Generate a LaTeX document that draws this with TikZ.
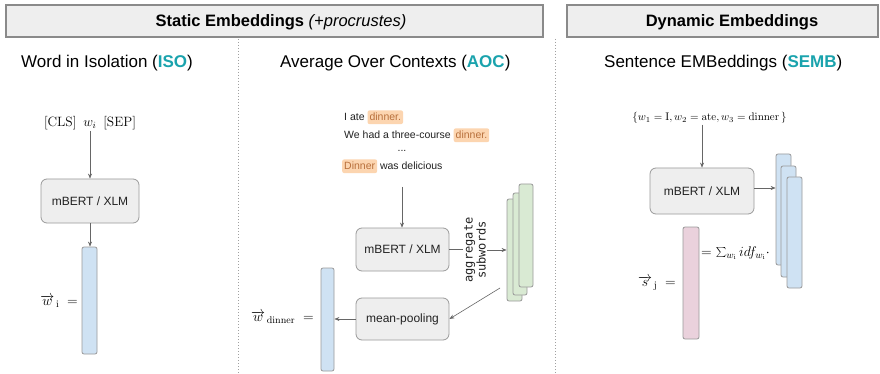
\RequirePackage{fix-cm}
\documentclass[tikz,border=0pt]{standalone}
\usepackage[no-math]{fontspec}
\setmainfont{Liberation Sans}
\setmonofont{DejaVu Sans Mono}
\usetikzlibrary{arrows.meta}
\definecolor{hdrfill}{HTML}{EEEEEE}
\definecolor{hdrline}{HTML}{8A8A8A}
\definecolor{boxfill}{HTML}{EEEEEE}
\definecolor{boxline}{HTML}{9A9A9A}
\definecolor{teal1}{HTML}{1AA3AD}
\definecolor{bluev}{HTML}{CFE2F3}
\definecolor{greenv}{HTML}{D9EAD3}
\definecolor{pinkv}{HTML}{EAD1DC}
\definecolor{hlfill}{HTML}{FCD5B0}
\definecolor{hltext}{HTML}{B8703C}
\definecolor{arrc}{HTML}{666666}
\definecolor{txtc}{HTML}{222222}
\definecolor{sepc}{HTML}{A0A0A0}
\begin{document}
\begin{tikzpicture}[x=1pt,y=-1pt,
  hdrbox/.style={draw=hdrline, line width=1.3pt, fill=hdrfill, inner sep=0pt},
  hdrtext/.style={font=\fontsize{16.5}{20}\selectfont, anchor=base, inner sep=0pt, text=black},
  boxm/.style={draw=boxline, line width=0.8pt, fill=boxfill, rounded corners=6pt, inner sep=0pt, font=\fontsize{12}{14}\selectfont, text=txtc},
  vecbar/.style={draw=boxline, line width=0.8pt, rounded corners=2pt, inner sep=0pt},
  arr/.style={draw=arrc, line width=0.6pt, -{Stealth[length=5pt,width=4pt]}},
  plainline/.style={draw=arrc, line width=0.6pt},
  ttl/.style={font=\fontsize{17}{20}\selectfont, anchor=base west, inner sep=0pt, text=black},
  sent/.style={font=\fontsize{10.5}{12}\selectfont, text=txtc, inner sep=0pt},
  hl/.style={sent, fill=hlfill, text=hltext, rounded corners=2pt, inner xsep=2pt, inner ysep=3pt},
  mathlbl/.style={inner sep=0pt, text=black},
  sepline/.style={draw=sepc, line width=1pt, dotted}
]
\fill[white] (0,0) rectangle (880,374);
\useasboundingbox (0,0) rectangle (880,374);

% headers
\node[hdrbox, minimum width=537pt, minimum height=32pt] (hs) at (274.5,21) {};
\node[hdrtext] (hst) at (281,27) {\textbf{Static Embeddings} \textit{(+procrustes)}};
\node[hdrbox, minimum width=311pt, minimum height=32pt] (hd) at (722.5,21) {};
\node[hdrtext] (hdt) at (732,27) {\textbf{Dynamic Embeddings}};

% separators
\draw[sepline] (238,39) -- (238,374);
\draw[sepline] (555,39) -- (555,374);

% titles
\node[ttl] (t1) at (21,68) {Word in Isolation (\textbf{\textcolor{teal1}{ISO}})};
\node[ttl] (t2) at (280,68) {Average Over Contexts (\textbf{\textcolor{teal1}{AOC}})};
\node[ttl] (t3) at (604,68) {Sentence EMBeddings (\textbf{\textcolor{teal1}{SEMB}})};

% ISO
\node[mathlbl, font=\fontsize{13.5}{15}\selectfont, inner sep=1pt] (cls) at (90,123) {$[\mathrm{CLS}]\enspace w_i\enspace [\mathrm{SEP}]$};
\node[boxm, minimum width=98pt, minimum height=44pt] (m1) at (90,201) {mBERT / XLM};
\node[vecbar, fill=bluev, minimum width=15pt, minimum height=107pt] (b1) at (89.5,300.5) {};
\draw[arr] (cls.south -| m1.north) -- (m1.north);
\draw[arr] (m1.south) -- (m1.south |- b1.north);
\node[mathlbl, font=\fontsize{14}{16}\selectfont, anchor=base east] (wi) at (78,305.5) {$\overrightarrow{w}_{\,\mathrm{i}}\;=$};

% AOC sentences
\node[sent, anchor=base west] (s1a) at (344,121) {I ate};
\node[hl, anchor=base west] (s1b) at ([xshift=2.5pt]s1a.base east) {dinner.};
\node[sent, anchor=base west] (s2a) at (344,139) {We had a three-course};
\node[hl, anchor=base west] (s2b) at ([xshift=2.5pt]s2a.base east) {dinner.};
\node[sent, anchor=base] (s3) at (402,152) {...};
\node[hl, anchor=base west] (s4a) at (342,170) {Dinner};
\node[sent, anchor=base west] (s4b) at ([xshift=2.5pt]s4a.base east) {was delicious};

\coordinate (s0) at (402,187);
\node[boxm, minimum width=93pt, minimum height=43pt] (m2) at (402.5,249.5) {mBERT / XLM};
\draw[arr] (s0) -- (s0 |- m2.north);

\node[font=\fontsize{12}{13}\selectfont\ttfamily, rotate=90, align=center, inner sep=1pt, text=txtc] (agg) at (475,250) {aggregate\\subwords};

\node[vecbar, fill=greenv, minimum width=15pt, minimum height=102pt] (g1) at (514.5,250) {};
\node[vecbar, fill=greenv, minimum width=14pt, minimum height=102pt] (g2) at (520,244) {};
\node[vecbar, fill=greenv, minimum width=14pt, minimum height=103pt] (g3) at (526,235.5) {};

\draw[plainline] (m2.east) -- (m2.east -| agg.north);
\draw[arr] (agg.south) -- (agg.south -| g1.west);

\node[boxm, minimum width=93pt, minimum height=42pt] (mp) at (402.5,319) {mean-pooling};
\coordinate (gs) at (500,288);
\draw[arr] (gs) -- (mp.east);

\node[vecbar, fill=bluev, minimum width=13pt, minimum height=103pt] (b2) at (327.5,319.5) {};
\draw[arr] (mp.west) -- (mp.west -| b2.east);
\node[mathlbl, font=\fontsize{14}{16}\selectfont, anchor=base east] (wd) at (314,321.5) {$\overrightarrow{w}_{\,\mathrm{dinner}}\;=$};

% SEMB
\node[mathlbl, font=\fontsize{11}{13}\selectfont, inner sep=1pt] (set) at (709.5,118) {$\{w_1=\mathrm{I}, w_2=\mathrm{ate}, w_3=\mathrm{dinner}\,\}$};
\node[boxm, minimum width=104pt, minimum height=46pt] (m3) at (702,191) {mBERT / XLM};
\draw[arr] (m3.north |- set.south) -- (m3.north);

\node[vecbar, fill=bluev, minimum width=15pt, minimum height=111pt] (c1) at (783.5,209.5) {};
\node[vecbar, fill=bluev, minimum width=15pt, minimum height=111pt] (c2) at (788.5,221.5) {};
\node[vecbar, fill=bluev, minimum width=15pt, minimum height=111pt] (c3) at (794.5,232.5) {};
\draw[arr] ([yshift=3pt]m3.east) -- ([yshift=3pt]m3.east -| c1.west);

\node[vecbar, fill=pinkv, minimum width=16pt, minimum height=112pt] (p1) at (691,283) {};
\node[mathlbl, font=\fontsize{14}{16}\selectfont, anchor=base west] (sumt) at (701,256) {$=\sum_{w_{\mathrm{i}}} idf_{w_{\mathrm{i}}}\cdot$};
\node[mathlbl, font=\fontsize{14}{16}\selectfont, anchor=base east] (sj) at (676,286.5) {$\overrightarrow{s}_{\,\mathrm{j}}\;=$};
\end{tikzpicture}
\end{document}
